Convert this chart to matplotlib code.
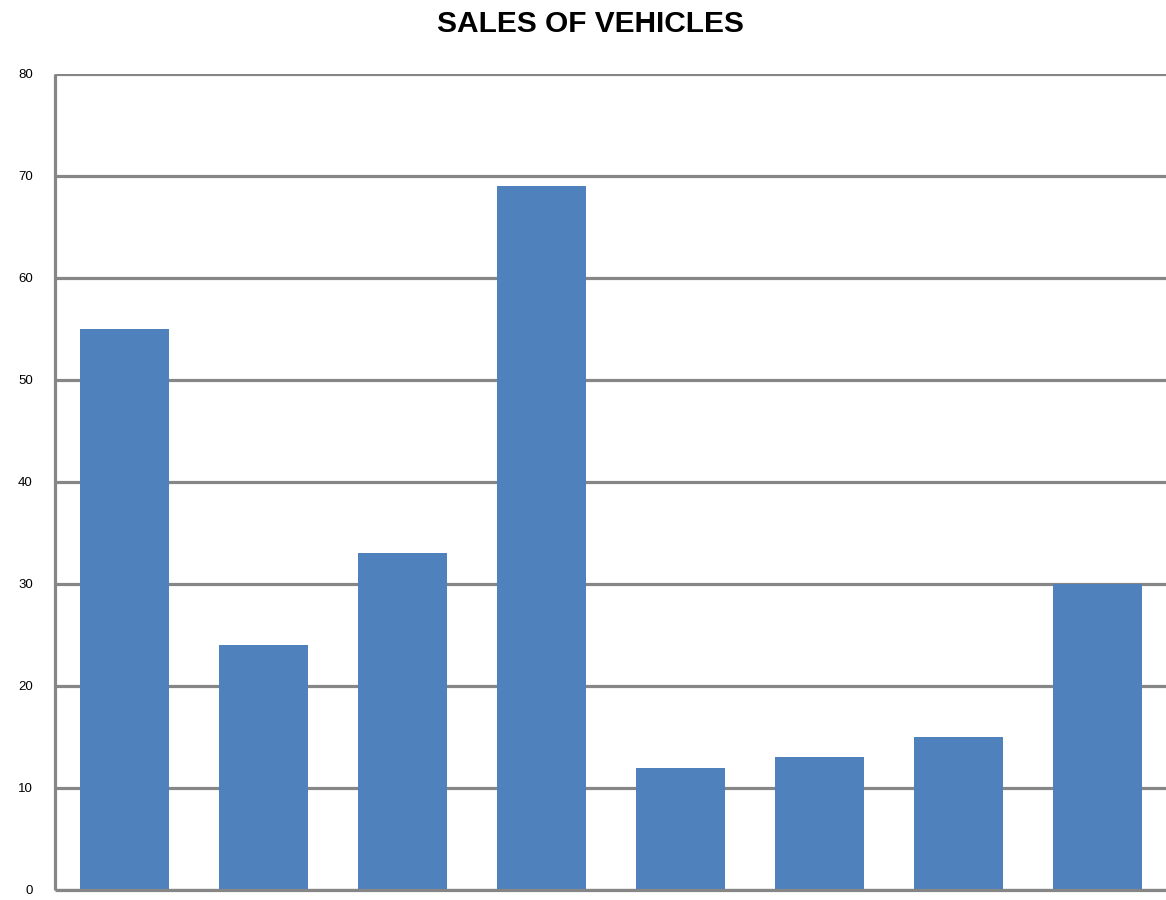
import matplotlib
matplotlib.use("Agg")
import matplotlib.pyplot as plt

title = "SALES OF VEHICLES"
categories = ["1", "2", "3", "4", "5", "6", "7", "8"]
sales = [55, 24, 33, 69, 12, 13, 15, 30]
y_ticks = [0, 10, 20, 30, 40, 50, 60, 70, 80]

W, H, DPI = 1166, 900, 100
fig = plt.figure(figsize=(W / DPI, H / DPI), dpi=DPI)
ax = fig.add_axes([55 / W, 10 / H, (W - 54) / W, (890 - 74) / H])

grid_col = "#868686"
bar_col = "#4F81BD"

x = list(range(len(categories)))
ax.bar(x, sales, width=0.647, color=bar_col, zorder=3)

ax.set_xlim(-0.5, len(categories) - 0.5)
ax.set_ylim(0, 80)
ax.set_yticks(y_ticks)
ax.set_xticks([])

ax.yaxis.grid(True, color=grid_col, linewidth=2.3, zorder=1)
ax.set_axisbelow(True)
for side in ("top", "right"):
    ax.spines[side].set_visible(False)
for side in ("left", "bottom"):
    ax.spines[side].set_color(grid_col)
    ax.spines[side].set_linewidth(2.3)
    ax.spines[side].set_capstyle("butt")
    ax.spines[side].set_zorder(4)

ax.tick_params(axis="y", length=0, pad=16, labelsize=9.5, labelcolor="black")
for lbl in ax.get_yticklabels():
    lbl.set_fontfamily("Liberation Sans")

fig.text(590 / W, 1 - 24 / H, title, ha="center", va="center",
         fontsize=21.5, fontweight="bold", family="Liberation Sans")

fig.savefig("out.png", dpi=DPI)
